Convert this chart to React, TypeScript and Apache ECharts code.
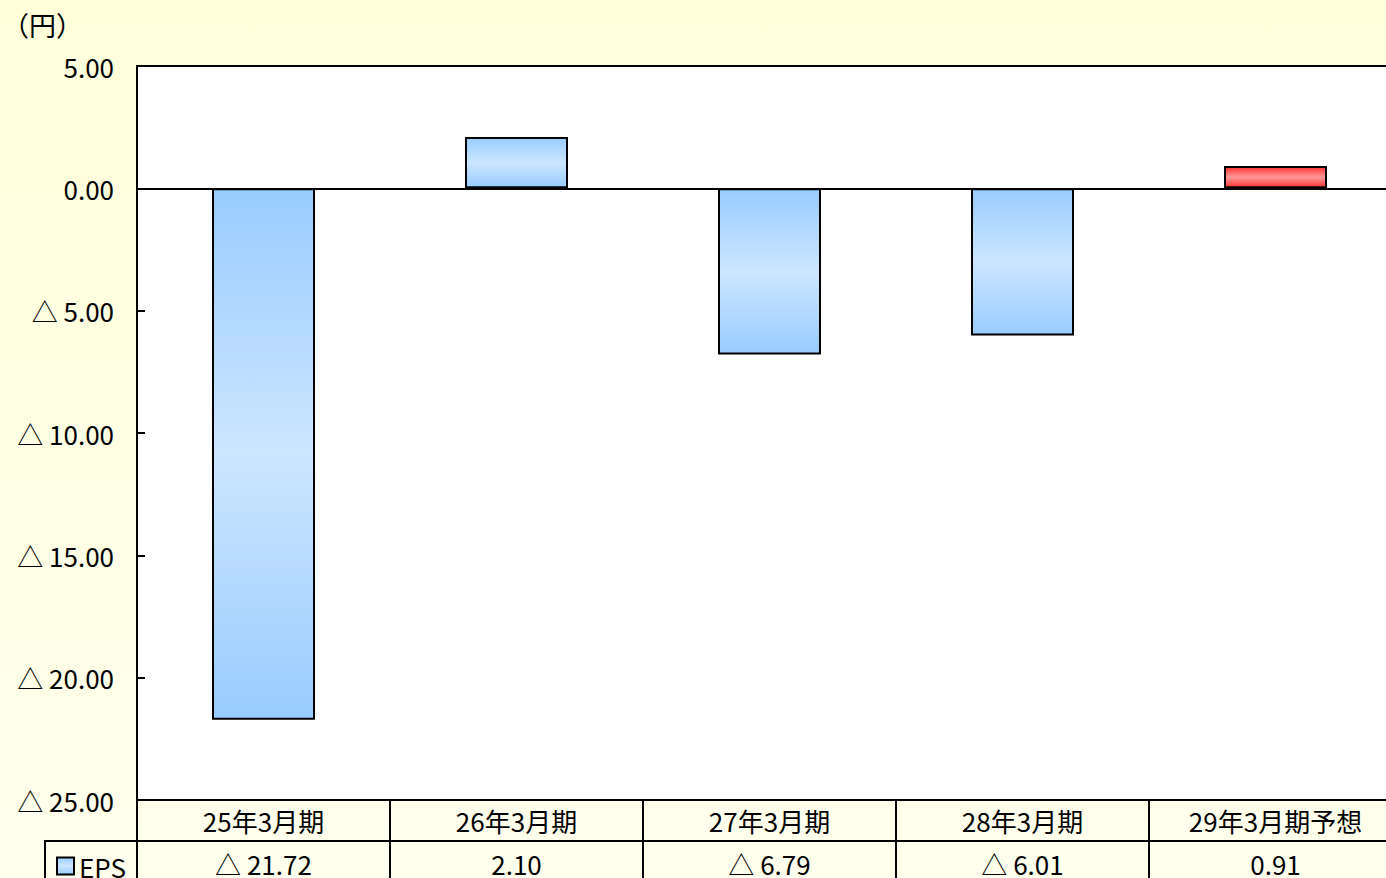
import React, { useEffect, useRef } from "react";
import * as echarts from "echarts";

const categories = ["25年3月期", "26年3月期", "27年3月期", "28年3月期", "29年3月期予想"];
const epsValues = [-21.72, 2.1, -6.79, -6.01, 0.91];
const forecastIndex = 4;
const yTicks = { min: -25, max: 5, interval: 5 };
const seriesName = "EPS";
const unitLabel = "（円）";

const FONT = "'Noto Sans CJK JP', 'Noto Sans', sans-serif";

const fmt = (v: number) => {
  if (Math.abs(v) < 1e-9) return "0.00";
  return v < 0 ? "△ " + (-v).toFixed(2) : v.toFixed(2);
};

const blueGrad = () =>
  new echarts.graphic.LinearGradient(0, 0, 0, 1, [
    { offset: 0, color: "#99CCFF" },
    { offset: 0.5, color: "#CCE6FF" },
    { offset: 1, color: "#99CCFF" },
  ]);
const redGrad = () =>
  new echarts.graphic.LinearGradient(0, 0, 0, 1, [
    { offset: 0, color: "#FF3333" },
    { offset: 0.5, color: "#FF9999" },
    { offset: 1, color: "#FF3333" },
  ]);

export default function App() {
  const ref = useRef<HTMLDivElement>(null);
  useEffect(() => {
    document.body.style.margin = "0";
    const chart = echarts.init(ref.current!, null, { renderer: "svg" });
    chart.setOption({
      animation: false,
      backgroundColor: new echarts.graphic.LinearGradient(0, 0, 0, 1, [
        { offset: 0, color: "#FFFFDA" },
        { offset: 1, color: "#FFFFEE" },
      ]),
      textStyle: { fontFamily: FONT },
      grid: {
        left: 137,
        top: 66,
        width: 1265,
        height: 734,
        show: true,
        backgroundColor: "#FFFFFF",
        borderColor: "#000",
        borderWidth: 2,
      },
      legend: {
        left: 51,
        top: 848,
        itemWidth: 17,
        itemHeight: 17,
        itemGap: 6,
        icon: "rect",
        textStyle: { fontSize: 26, color: "#000", fontFamily: FONT },
        data: [seriesName],
      },
      xAxis: [
        {
          type: "category",
          data: categories,
          position: "bottom",
          axisLine: { show: true, onZero: false, lineStyle: { color: "#000", width: 2 } },
          axisTick: { show: true, interval: 0, length: 41, lineStyle: { color: "#000", width: 2 } },
          axisLabel: {
            interval: 0,
            fontSize: 26,
            color: "#000",
            fontFamily: FONT,
            verticalAlign: "middle",
            margin: 20,
          },
        },
        {
          type: "category",
          data: categories,
          position: "bottom",
          offset: 41,
          axisLine: { show: true, onZero: false, lineStyle: { color: "#000", width: 2 } },
          axisTick: { show: true, interval: 0, length: 45, lineStyle: { color: "#000", width: 2 } },
          axisLabel: {
            interval: 0,
            fontSize: 26,
            color: "#000",
            fontFamily: FONT,
            verticalAlign: "middle",
            margin: 22,
            formatter: (_v: string, i: number) => fmt(epsValues[i]),
          },
        },
      ],
      yAxis: {
        type: "value",
        min: yTicks.min,
        max: yTicks.max,
        interval: yTicks.interval,
        axisLine: { show: true, lineStyle: { color: "#000", width: 2 } },
        axisTick: { show: true, inside: true, length: 8, lineStyle: { color: "#000", width: 2 } },
        splitLine: { show: false },
        axisLabel: {
          fontSize: 26,
          color: "#000",
          fontFamily: FONT,
          margin: 23,
          formatter: (v: number) => fmt(v),
        },
      },
      graphic: [
        {
          type: "text",
          left: 2,
          top: 11,
          style: { text: unitLabel, fontSize: 27, fill: "#000", fontFamily: FONT },
        },
        {
          type: "polyline",
          shape: { points: [[45, 880], [45, 841], [137, 841]] },
          style: { stroke: "#000", lineWidth: 2, fill: "none" },
        },
      ],
      series: [
        {
          name: seriesName,
          type: "bar",
          xAxisIndex: 0,
          barWidth: 103,
          itemStyle: { color: blueGrad(), borderColor: "#000", borderWidth: 2 },
          data: epsValues.map((v, i) =>
            i === forecastIndex
              ? { value: v, itemStyle: { color: redGrad(), borderColor: "#000", borderWidth: 2 } }
              : v
          ),
          markLine: {
            silent: true,
            symbol: "none",
            label: { show: false },
            lineStyle: { color: "#000", width: 2, type: "solid" },
            data: [{ yAxis: 0 }],
          },
        },
      ],
    });
    return () => chart.dispose();
  }, []);
  return (
    <div style={{ position: "absolute", left: 0, top: 0, width: 1386, height: 878, overflow: "hidden" }}>
      <div ref={ref} style={{ width: 1420, height: 878 }} />
    </div>
  );
}
